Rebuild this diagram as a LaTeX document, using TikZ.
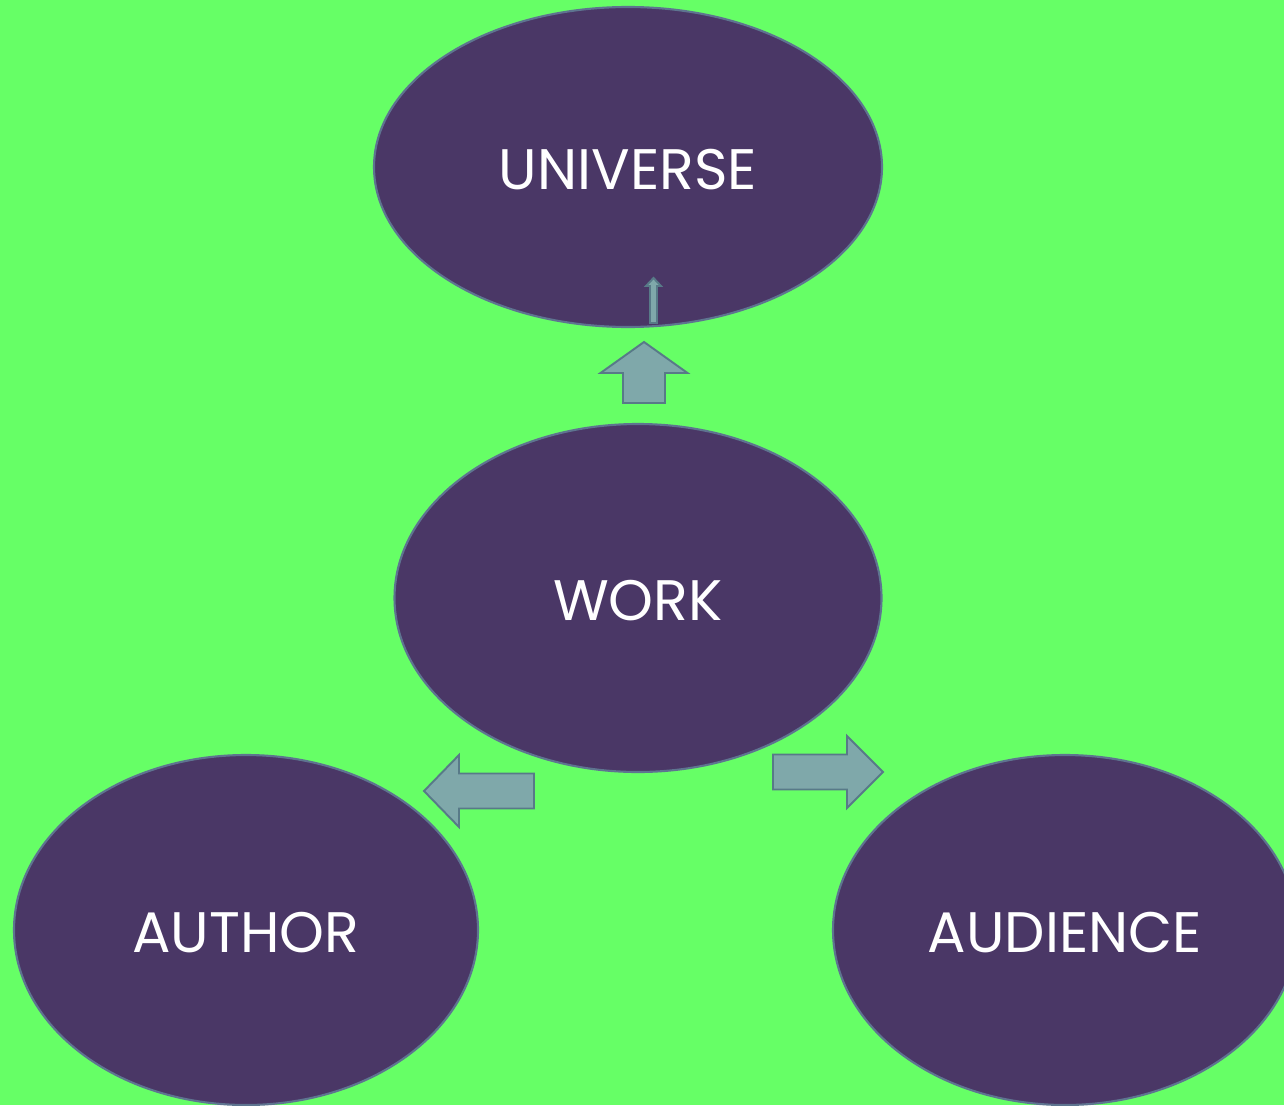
\documentclass[tikz,border=0pt]{standalone}
\usepackage{fontspec}
\newfontfamily\labelfont{Poppins}
\usetikzlibrary{shapes.geometric, positioning}

\definecolor{bggreen}{HTML}{66FF66}
\definecolor{ovalfill}{HTML}{4A3766}
\definecolor{ovalline}{HTML}{5E7490}
\definecolor{arrowfill}{HTML}{7FA8AA}
\definecolor{arrowline}{HTML}{587A88}

\newcommand{\px}{0.02cm}
\newcommand{\ovalwidth}{464*\px}
\newcommand{\ovalheight}{350*\px}

%% block arrow: tail x, tail y, angle, length, shaft width, head width, head length
\newcommand{\blockarrow}[7]{
  \begin{scope}[shift={(#1,#2)}, rotate=#3]
    \draw[blockarrow] (0,-#5/2) -- (#4-#7,-#5/2) -- (#4-#7,-#6/2) -- (#4,0)
      -- (#4-#7,#6/2) -- (#4-#7,#5/2) -- (0,#5/2) -- cycle;
  \end{scope}
}

\begin{document}
\begin{tikzpicture}[x=0.02cm, y=-0.02cm]

\tikzstyle{oval}=[ellipse, draw=ovalline, fill=ovalfill, line width=1.2pt, inner sep=0pt,
  text=white, font=\labelfont\fontsize{32.5}{40}\selectfont]
\tikzstyle{blockarrow}=[draw=arrowline, fill=arrowfill, line width=1.1pt, line join=miter]

%% background
\fill[bggreen] (0,0) rectangle (1284,1105);
\useasboundingbox (0,0) rectangle (1284,1105);

%% four ovals
\node (universe) [oval, minimum width=508*\px, minimum height=320*\px] at (628,167) {};
\node (work) [oval, minimum width=487*\px, minimum height=348*\px] at (638,598) {};
\node (author) [oval, minimum width=\ovalwidth, minimum height=\ovalheight] at (246,930) {};
\node (audience) [oval, minimum width=\ovalwidth, minimum height=\ovalheight] at (1065,930) {};

%% labels, a little below the centres
\node [text=white, font=\labelfont\fontsize{32.5}{40}\selectfont, yshift=-3*\px] at (universe) {UNIVERSE};
\node [text=white, font=\labelfont\fontsize{32.5}{40}\selectfont, yshift=-3*\px] at (work) {WORK};
\node [text=white, font=\labelfont\fontsize{32.5}{40}\selectfont, yshift=-3*\px] at (author) {AUTHOR};
\node [text=white, font=\labelfont\fontsize{32.5}{40}\selectfont, yshift=-3*\px] at (audience) {AUDIENCE};

%% block arrows out of the work
\blockarrow{644}{403}{90}{61}{42}{87}{31}
\blockarrow{653.5}{323}{90}{45}{7}{15}{8}
\blockarrow{534}{791}{180}{110}{35}{72}{35}
\blockarrow{773}{772}{0}{110}{35}{72}{36}

\end{tikzpicture}
\end{document}
